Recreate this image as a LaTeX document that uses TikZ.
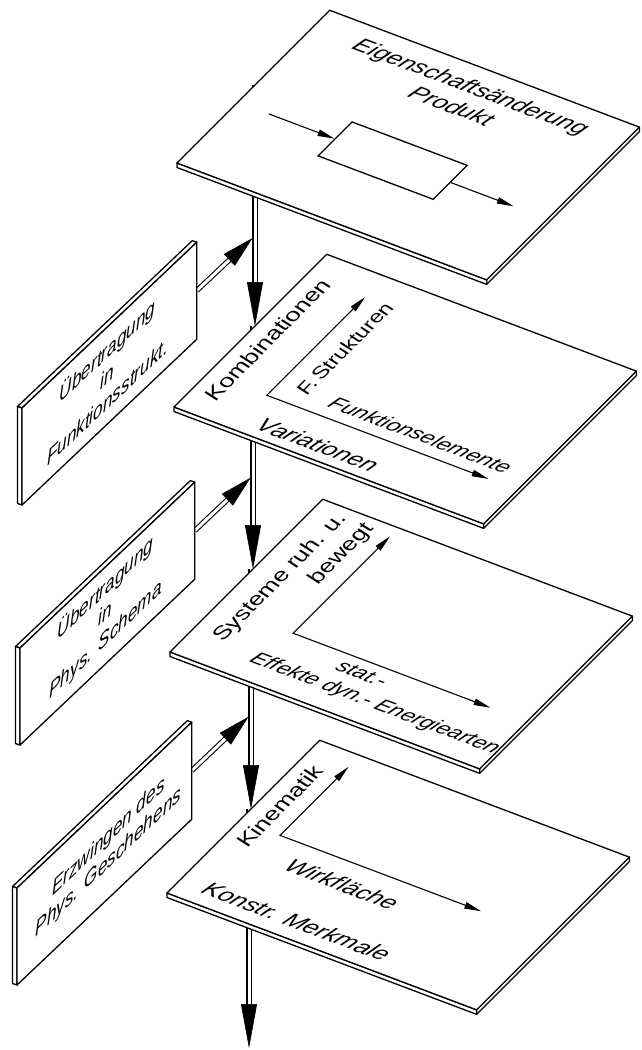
\documentclass[tikz,border=0pt]{standalone}
\usepackage{fontspec}
\usetikzlibrary{arrows.meta,calc}
\newfontfamily\lettering[FakeStretch=1.1]{Liberation Sans}
\newcommand\platefont{\lettering\itshape\fontsize{22.5}{27.5}\selectfont}
\newcommand\widefont{\lettering\itshape\fontsize{22.5}{29}\selectfont}
\newcommand\smallfont{\lettering\itshape\fontsize{20.5}{25}\selectfont}
\newcommand\panelfont{\lettering\itshape\fontsize{21.5}{25.5}\selectfont}

\begin{document}
\begin{tikzpicture}[x=1pt,y=1pt,
    plateframe/.style={cm={0.9356,-0.3531,0.7071,0.7071,(0,0)}},
    panelframe/.style={cm={0.7255,0.6882,0,1,(0,0)}},
    face/.style={draw, fill=white, line width=1.3pt, line join=round},
    lbl/.style={font=\platefont, transform shape, inner sep=0pt},
    pnl/.style={font=\panelfont, transform shape, inner sep=0pt, align=center},
    prodbox/.style={draw, line width=1.3pt, transform shape,
        minimum width=123pt, minimum height=48pt, inner sep=0pt},
    flow/.style={-{Triangle[length=17pt,width=6.5pt]}, line width=1.1pt},
    twoway/.style={{Triangle[length=17pt,width=6.5pt]}-{Triangle[length=17pt,width=6.5pt]}, line width=1.1pt},
    shaft/.style={double, double distance=3pt, line width=1.1pt},
    bighead/.style={-{Triangle[length=44pt,width=16pt]}, line width=0.6pt},
    sidehead/.style={-{Triangle[length=32pt,width=16pt]}, line width=0.6pt}
]
\useasboundingbox (0,0) rectangle (641,-1050);

% ------------------------------------------------------------
% shaft points (entry on the back edge of each plate)
% ------------------------------------------------------------
\coordinate (top1) at (255,-85);
\coordinate (tip2) at (255,-326);
\coordinate (top2) at (253,-326);
\coordinate (tip3) at (253,-569);
\coordinate (top3) at (251,-569);
\coordinate (tip4) at (251,-809);
\coordinate (top4) at (249,-809);
\coordinate (out) at (249,-1048);

% side arrows: panel edge -> shaft
\coordinate (m1) at (196.8,-290.6);
\coordinate (j1) at (252.6,-238.0);
\coordinate (m2) at (194.8,-530.6);
\coordinate (j2) at (250.6,-477.7);
\coordinate (m3) at (191.8,-770.6);
\coordinate (j3) at (248.6,-716.7);

% vertical flow
\draw[shaft] (top1) -- ([yshift=42pt]tip2);
\draw[bighead] ([yshift=44pt]tip2) -- (tip2);
\draw[shaft] (top2) -- ([yshift=42pt]tip3);
\draw[bighead] ([yshift=44pt]tip3) -- (tip3);
\draw[shaft] (top3) -- ([yshift=42pt]tip4);
\draw[bighead] ([yshift=44pt]tip4) -- (tip4);
\draw[shaft] (top4) -- ([yshift=42pt]out);
\draw[bighead] ([yshift=44pt]out) -- (out);

% side flow
\foreach \m/\j in {m1/j1, m2/j2, m3/j3} {
    \draw[shaft] (\m) -- ($(\j)!30pt!(\m)$);
    \draw[sidehead] ($(\j)!32pt!(\m)$) -- (\j);
}

% ------------------------------------------------------------
% PANELS (left)
% ------------------------------------------------------------
\foreach \bx/\by in {22/505, 20/745, 17/985} {
    \begin{scope}[shift={(\bx,-\by)}, panelframe]
        \path[face] (0,97) -- (241,97) -- (234.8,102.77) -- (-6.2,102.77) -- cycle;
        \path[face] (0,0) -- (0,97) -- (-6.2,102.77) -- (-6.2,5.77) -- cycle;
        \path[face] (0,0) rectangle (241,97);
    \end{scope}
}
\begin{scope}[shift={(22,-505)}, panelframe]
    \node[pnl] (ue1) at (118,49) {Übertragung\\in\\Funktionsstrukt.};
\end{scope}
\begin{scope}[shift={(20,-745)}, panelframe]
    \node[pnl] (ue2) at (118,50) {Übertragung\\in\\Phys. Schema};
\end{scope}
\begin{scope}[shift={(17,-985)}, panelframe]
    \node[pnl] (erz) at (126,48) {Erzwingen des\\Phys. Geschehens};
\end{scope}

% ------------------------------------------------------------
% PLATES (right)
% ------------------------------------------------------------
\foreach \lx/\ly in {177/163, 174/407, 170/652, 167/893} {
    \begin{scope}[shift={(\lx,-\ly)}, plateframe]
        \path[face] (0,0) -- (331,0) -- (331,216) -- (334.49,211.38)
            -- (334.49,-4.62) -- (3.49,-4.62) -- cycle;
        \draw[line width=1.3pt] (331,0) -- (334.49,-4.62);
        \path[face] (0,0) rectangle (331,216);
    \end{scope}
}

% plate 1
\begin{scope}[shift={(177,-163)}, plateframe]
    \node[lbl, align=center] (title) at (169,179) {Eigenschaftsänderung\\Produkt};
    \node[prodbox] (prod) at (165.5,86) {};
    \coordinate (pin) at (33,86);
    \coordinate (pout) at (295,86);
    \draw[flow] (pin) -- (prod.west);
    \draw[flow] (prod.east) -- (pout);
\end{scope}

% plate 2
\begin{scope}[shift={(174,-407)}, plateframe]
    \node[lbl, rotate=90] (komb) at (20,105) {Kombinationen};
    \coordinate (fs) at (63,187);
    \coordinate (fc) at (63,48);
    \coordinate (fe) at (300,48);
    \draw[twoway] (fs) -- (fc) -- (fe);
    \node[lbl, rotate=90, font=\smallfont] (fstr) at (87,126) {F.\,Strukturen};
    \node[lbl, font=\smallfont] (felem) at (213,67) {Funktionselemente};
    \node[lbl] (var) at (141,17) {Variationen};
\end{scope}

% plate 3
\begin{scope}[shift={(170,-652)}, plateframe]
    \node[lbl, rotate=90, align=right, font=\widefont]
        (sys) at (42.5,119) {Systeme ruh. u.\\bewegt};
    \coordinate (ss) at (81,204);
    \coordinate (sc) at (81,67);
    \coordinate (se) at (292,67);
    \draw[twoway] (ss) -- (sc) -- (se);
    \node[lbl, font=\smallfont] (stat) at (166,52) {stat.-};
    \node[lbl, font=\smallfont] (eff) at (199,26) {Effekte dyn.- Energiearten};
\end{scope}

% plate 4
\begin{scope}[shift={(167,-893)}, plateframe]
    \node[lbl, rotate=90] (kin) at (20,132) {Kinematik};
    \coordinate (ks) at (43,200);
    \coordinate (kc) at (43,103);
    \coordinate (ke) at (258,103);
    \draw[twoway] (ks) -- (kc) -- (ke);
    \node[lbl] (wirk) at (129,77) {Wirkfläche};
    \node[lbl] (konstr) at (123,21) {Konstr. Merkmale};
\end{scope}

\end{tikzpicture}
\end{document}
